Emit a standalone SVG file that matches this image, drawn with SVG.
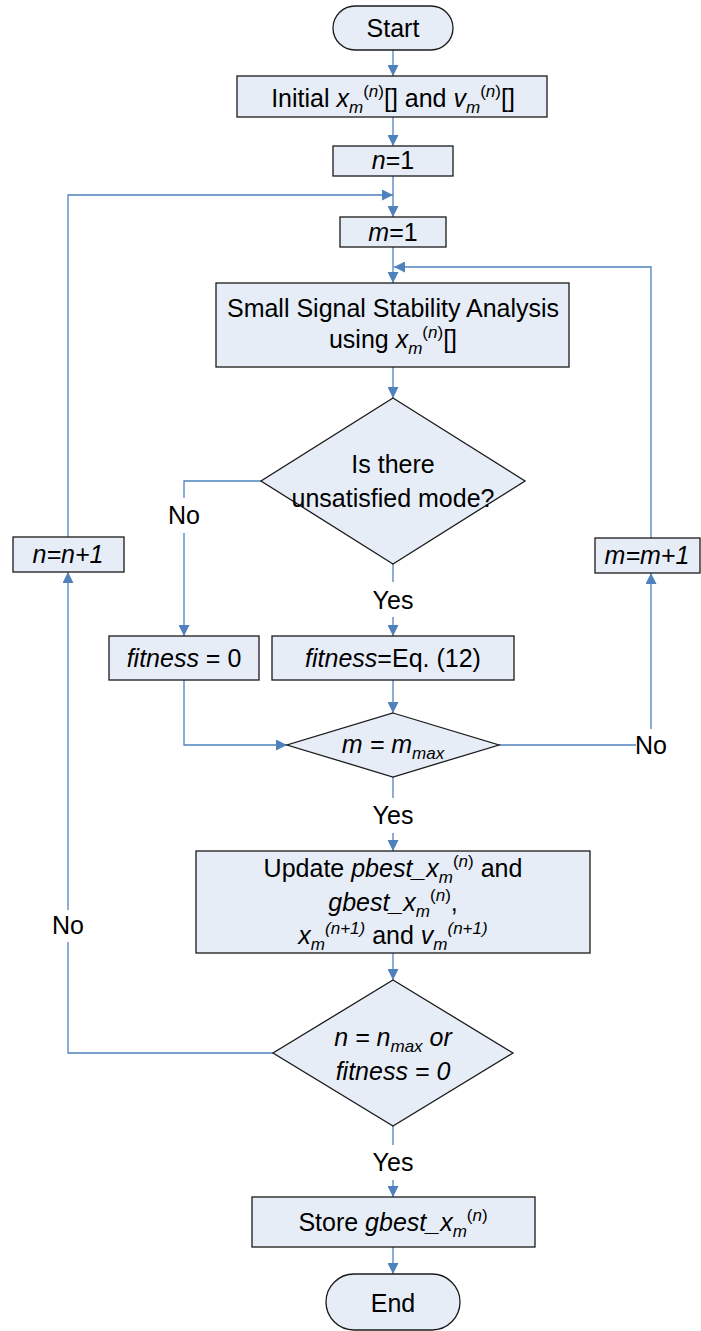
<svg xmlns="http://www.w3.org/2000/svg" width="701" height="1331" viewBox="0 0 701 1331">
<style>
.box{fill:#e7edf7;stroke:#1a1a1a;stroke-width:1.3}
.c{fill:none;stroke:#4f81bd;stroke-width:1.3}
.t{font-family:"Liberation Sans",Arial,sans-serif;font-size:25px;fill:#000;text-anchor:middle}
.i{font-style:italic}
.s{font-size:17px}
</style>
<defs>
<marker id="ah" viewBox="0 0 10 10" refX="10" refY="5" markerWidth="11" markerHeight="11" markerUnits="userSpaceOnUse" orient="auto">
<path d="M0,0 L10,5 L0,10 z" fill="#4f81bd"/>
</marker>
</defs>
<g id="connectors">
<path class="c" d="M393,50 V76" marker-end="url(#ah)"/>
<path class="c" d="M393,117 V146" marker-end="url(#ah)"/>
<path class="c" d="M393,176 V217" marker-end="url(#ah)"/>
<path class="c" d="M68,537 V195 H393" marker-end="url(#ah)"/>
<path class="c" d="M393,247 V283" marker-end="url(#ah)"/>
<path class="c" d="M651,538 V267 H394" marker-end="url(#ah)"/>
<path class="c" d="M393,367 V398" marker-end="url(#ah)"/>
<path class="c" d="M261,481 H184 V498"/>
<path class="c" d="M184,533 V636" marker-end="url(#ah)"/>
<path class="c" d="M393,564 V582"/>
<path class="c" d="M393,617 V636" marker-end="url(#ah)"/>
<path class="c" d="M184,680 V745 H287" marker-end="url(#ah)"/>
<path class="c" d="M393,680 V713" marker-end="url(#ah)"/>
<path class="c" d="M499,745 H636"/>
<path class="c" d="M651,729 V573" marker-end="url(#ah)"/>
<path class="c" d="M393,777 V798"/>
<path class="c" d="M393,833 V851" marker-end="url(#ah)"/>
<path class="c" d="M393,953 V980" marker-end="url(#ah)"/>
<path class="c" d="M273,1053 H68 V942"/>
<path class="c" d="M68,910 V572" marker-end="url(#ah)"/>
<path class="c" d="M393,1126 V1145"/>
<path class="c" d="M393,1180 V1197" marker-end="url(#ah)"/>
<path class="c" d="M393,1247 V1274" marker-end="url(#ah)"/>
</g>
<g id="start">
<rect class="box" x="333" y="6" width="120" height="44" rx="22"/>
<text class="t" x="393" y="37">Start</text>
</g>
<g id="initial">
<rect class="box" x="237" y="76" width="310" height="41"/>
<text class="t" x="393" y="107">Initial <tspan class="i">x</tspan><tspan class="s i" dy="6">m</tspan><tspan class="s" dy="-16">(<tspan class="i">n</tspan>)</tspan><tspan dy="10">[] and </tspan><tspan class="i">v</tspan><tspan class="s i" dy="6">m</tspan><tspan class="s" dy="-16">(<tspan class="i">n</tspan>)</tspan><tspan dy="10">[]</tspan></text>
</g>
<g id="n1">
<rect class="box" x="333" y="146" width="120" height="30"/>
<text class="t" x="393" y="169"><tspan class="i">n</tspan>=1</text>
</g>
<g id="m1">
<rect class="box" x="340" y="217" width="106" height="30"/>
<text class="t" x="393" y="241"><tspan class="i">m</tspan>=1</text>
</g>
<g id="sssa">
<rect class="box" x="216" y="283" width="353" height="84"/>
<text class="t" x="393" y="317">Small Signal Stability Analysis</text>
<text class="t" x="393" y="348">using <tspan class="i">x</tspan><tspan class="s i" dy="6">m</tspan><tspan class="s" dy="-16">(<tspan class="i">n</tspan>)</tspan><tspan dy="10">[]</tspan></text>
</g>
<g id="dec1">
<polygon class="box" points="393,398 525,481 393,564 261,481"/>
<text class="t" x="393" y="473">Is there</text>
<text class="t" x="393" y="507">unsatisfied mode?</text>
</g>
<g id="nn1">
<rect class="box" x="13" y="537" width="111" height="35"/>
<text class="t i" x="68" y="563">n=n+1</text>
</g>
<g id="mm1">
<rect class="box" x="595" y="538" width="105" height="35"/>
<text class="t i" x="647" y="564">m=m+1</text>
</g>
<g id="fit0">
<rect class="box" x="109" y="636" width="150" height="44"/>
<text class="t" x="184" y="667"><tspan class="i">fitness</tspan> = 0</text>
</g>
<g id="fiteq">
<rect class="box" x="272" y="636" width="242" height="44"/>
<text class="t" x="393" y="667"><tspan class="i">fitness</tspan>=Eq. (12)</text>
</g>
<g id="dec2">
<polygon class="box" points="393,713 499,745 393,777 287,745"/>
<text class="t i" x="393" y="753">m = m<tspan class="s" dy="6">max</tspan></text>
</g>
<g id="update">
<rect class="box" x="196" y="851" width="394" height="102"/>
<text class="t" x="393" y="877">Update <tspan class="i">pbest_x</tspan><tspan class="s i" dy="6">m</tspan><tspan class="s" dy="-16">(<tspan class="i">n</tspan>)</tspan><tspan dy="10"> and</tspan></text>
<text class="t" x="393" y="911"><tspan class="i">gbest_x</tspan><tspan class="s i" dy="6">m</tspan><tspan class="s" dy="-16">(<tspan class="i">n</tspan>)</tspan><tspan dy="10">,</tspan></text>
<text class="t" x="393" y="944"><tspan class="i">x</tspan><tspan class="s i" dy="6">m</tspan><tspan class="s i" dy="-16">(n+1)</tspan><tspan dy="10"> and </tspan><tspan class="i">v</tspan><tspan class="s i" dy="6">m</tspan><tspan class="s i" dy="-16">(n+1)</tspan></text>
</g>
<g id="dec3">
<polygon class="box" points="393,980 513,1053 393,1126 273,1053"/>
<text class="t i" x="393" y="1046">n = n<tspan class="s" dy="6">max</tspan><tspan dy="-6"> or</tspan></text>
<text class="t i" x="393" y="1080">fitness = 0</text>
</g>
<g id="store">
<rect class="box" x="252" y="1197" width="283" height="50"/>
<text class="t" x="393" y="1231">Store <tspan class="i">gbest_x</tspan><tspan class="s i" dy="6">m</tspan><tspan class="s" dy="-16">(<tspan class="i">n</tspan>)</tspan></text>
</g>
<g id="end">
<rect class="box" x="326" y="1274" width="134" height="56" rx="28"/>
<text class="t" x="393" y="1312">End</text>
</g>
<g id="labels">
<text class="t" x="184" y="524">No</text>
<text class="t" x="393" y="609">Yes</text>
<text class="t" x="651" y="754">No</text>
<text class="t" x="393" y="824">Yes</text>
<text class="t" x="68" y="934">No</text>
<text class="t" x="393" y="1171">Yes</text>
</g>
</svg>
